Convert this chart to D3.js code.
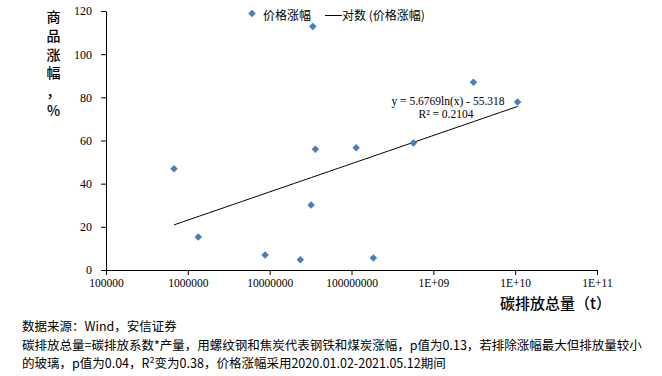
<!DOCTYPE html>
<html>
<head>
<meta charset="utf-8">
<script src="https://cdn.jsdelivr.net/npm/d3@7"></script>
<style>
  html, body { margin: 0; padding: 0; background: #fff; }
  svg { display: block; }
</style>
</head>
<body>
<svg id="chart" width="662" height="376"></svg>
<script>
// ---- data ----
const emissions = [6.78e5, 1.34e6, 8.8e6, 2.37e7, 3.21e7, 3.37e7, 3.62e7, 1.14e8, 1.85e8, 5.71e8, 3.09e9, 1.07e10];
const priceChange = [46.9, 15.3, 6.9, 4.8, 30.1, 112.8, 56.0, 56.6, 5.6, 58.8, 87.0, 77.8];
const xTicks = [1e5, 1e6, 1e7, 1e8, 1e9, 1e10, 1e11];
const xTickLabels = ["100000", "1000000", "10000000", "100000000", "1E+09", "1E+10", "1E+11"];
const yTicks = [0, 20, 40, 60, 80, 100, 120];
const trendSlope = 5.6769;
const trendIntercept = -55.318;
const equationText = "y = 5.6769ln(x) - 55.318";
const r2Text = "R² = 0.2104";
const yTitleChars = ["商", "品", "涨", "幅", "，", "%"];
const xTitle = "碳排放总量（t）";
const legendLabels = ["价格涨幅", "对数 (价格涨幅)"];
const notes = [
  "数据来源：Wind，安信证券",
  "碳排放总量=碳排放系数*产量，用螺纹钢和焦炭代表钢铁和煤炭涨幅，p值为0.13，若排除涨幅最大但排放量较小",
  "的玻璃，p值为0.04，R²变为0.38，价格涨幅采用2020.01.02-2021.05.12期间"
];

// ---- drawing ----
const svg = d3.select("#chart");
const blue = "#4A7EBB";
const serif = "'Liberation Serif', 'Times New Roman', serif";
const cjk = "'Noto Sans CJK SC', 'Noto Sans', sans-serif";

const x = d3.scaleLog().domain([1e5, 1e11]).range([106, 597]);
const y = d3.scaleLinear().domain([0, 120]).range([270, 11]);

// y axis
const yAxis = svg.append("g")
  .attr("transform", `translate(${x.range()[0]},0)`)
  .call(d3.axisLeft(y).tickValues(yTicks).tickSize(5).tickPadding(9).tickSizeOuter(0));
yAxis.select(".domain").attr("stroke", "#000");
yAxis.selectAll("line").attr("stroke", "#000");
yAxis.selectAll("text").attr("font-family", serif).attr("font-size", 12).attr("fill", "#000");

// x axis
const xAxis = svg.append("g")
  .attr("transform", `translate(0,${y(0)})`)
  .call(d3.axisBottom(x).tickValues(xTicks).tickFormat((d, i) => xTickLabels[i]).tickSize(5).tickPadding(4).tickSizeOuter(0));
xAxis.select(".domain").attr("stroke", "#000");
xAxis.selectAll("line").attr("stroke", "#000");
xAxis.selectAll("text").attr("font-family", serif).attr("font-size", 11.5).attr("fill", "#000");

// trend line
const xMin = d3.min(emissions), xMax = d3.max(emissions);
const lx0 = Math.log10(xMin), lx1 = Math.log10(xMax);
const trendPts = d3.range(0, 41).map(i => {
  const xv = Math.pow(10, lx0 + (lx1 - lx0) * i / 40);
  return [xv, trendSlope * Math.log(xv) + trendIntercept];
});
svg.append("path")
  .datum(trendPts)
  .attr("fill", "none")
  .attr("stroke", "#000")
  .attr("stroke-width", 1)
  .attr("d", d3.line().x(d => x(d[0])).y(d => y(d[1])));

// points
const diamond = d3.symbol().type(d3.symbolDiamond2).size(36);
svg.append("g").selectAll("path")
  .data(emissions.map((e, i) => [e, priceChange[i]]))
  .join("path")
  .attr("d", diamond)
  .attr("transform", d => `translate(${x(d[0])},${y(d[1])})`)
  .attr("fill", blue);

// equation
svg.append("text").attr("x", 448).attr("y", 104.5)
  .attr("text-anchor", "middle").attr("font-family", serif).attr("font-size", 11.5)
  .text(equationText);
svg.append("text").attr("x", 446).attr("y", 118)
  .attr("text-anchor", "middle").attr("font-family", serif).attr("font-size", 11.5)
  .text(r2Text);

// legend
svg.append("path").attr("d", diamond)
  .attr("transform", "translate(252,13.5)").attr("fill", blue);
svg.append("text").attr("x", 263).attr("y", 19.5)
  .attr("font-family", cjk).attr("font-size", 12).text(legendLabels[0]);
svg.append("line").attr("x1", 325).attr("x2", 342).attr("y1", 15.5).attr("y2", 15.5)
  .attr("stroke", "#000").attr("stroke-width", 1);
svg.append("text").attr("x", 342).attr("y", 19.5)
  .attr("font-family", cjk).attr("font-size", 12).text(legendLabels[1]);

// y title (stacked characters)
const yTitleY = [17, 35.5, 54.5, 73, 92, 111];
svg.append("g").selectAll("text")
  .data(yTitleChars)
  .join("text")
  .attr("x", 53.5)
  .attr("y", (d, i) => yTitleY[i] + 5)
  .attr("text-anchor", "middle")
  .attr("font-family", cjk)
  .attr("font-size", 14)
  .attr("font-weight", 500)
  .text(d => d);

// x title
svg.append("text").attr("x", 500).attr("y", 308.5)
  .attr("font-family", cjk).attr("font-size", 15).attr("font-weight", 500)
  .text(xTitle);

// notes
const noteY = [331, 349.5, 368];
svg.append("g").selectAll("text")
  .data(notes)
  .join("text")
  .attr("x", 22)
  .attr("y", (d, i) => noteY[i])
  .attr("font-family", cjk)
  .attr("font-size", 12.5)
  .text(d => d);
</script>
</body>
</html>
